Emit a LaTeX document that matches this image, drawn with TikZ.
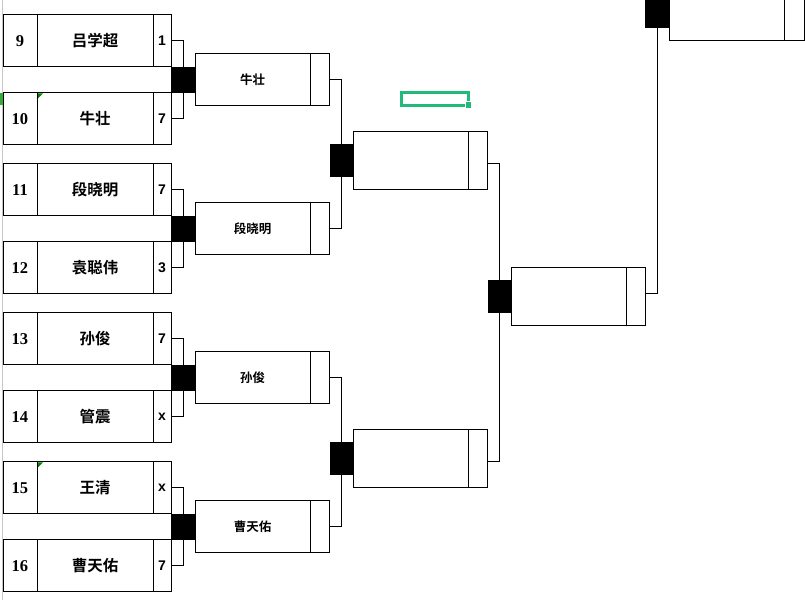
\documentclass[tikz,border=0pt]{standalone}
\usepackage{fontspec}
\setmainfont{Liberation Serif}
\newfontfamily\cjk{Noto Sans CJK SC}[BoldFont={* Bold}]
\newfontfamily\scorefont{Liberation Sans}
\begin{document}
\begin{tikzpicture}[x=1pt,y=-1pt,
  cell/.style={draw,line width=1pt,inner sep=0pt,minimum height=52pt},
  seed/.style={cell,minimum width=34pt,font=\fontsize{16.5}{16.5}\selectfont\bfseries},
  pname/.style={cell,minimum width=116pt,font=\fontsize{15.5}{15.5}\selectfont\cjk\bfseries},
  score/.style={cell,minimum width=18pt,font=\fontsize{14}{14}\selectfont\scorefont\bfseries},
  rname/.style={cell,minimum width=115pt,font=\fontsize{12.5}{12.5}\selectfont\cjk\bfseries},
  rscore/.style={cell,minimum width=19.5pt},
  blk/.style={fill=black,draw=none,inner sep=0pt,minimum width=24pt},
  conn/.style={line width=1pt}]
\useasboundingbox (0,0) rectangle (805,600);
\clip (0,0) rectangle (805,600);
% ---- round 1 ----
\foreach \n/\nm/\sc/\y in {9/吕学超/1/40.8, 10/牛壮/7/118.8, 11/段晓明/7/189.8, 12/袁聪伟/3/267.8,
                          13/孙俊/7/338.8, 14/管震/x/416.8, 15/王清/x/487.8, 16/曹天佑/7/565.8}{
  \node[seed]  (s\n) at (20,\y) {\n};
  \node[pname] (n\n) at (95,\y) {\nm};
  \node[score] (c\n) at (162,\y) {\sc};
}
% comment indicators
\fill[green!50!black] (38,93.3) -- (43,93.3) -- (38,98.3) -- cycle;
\fill[green!50!black] (38,462.3) -- (43,462.3) -- (38,467.3) -- cycle;
% ruler line at left
\draw[gray!45,line width=1pt] (2.5,0) -- (2.5,600);
\fill[green!60!black!80] (0,92.5) rectangle (2.5,105);
% round-1 black boxes
\node[blk,minimum height=26pt] (b1) at (183,79.8) {};
\node[blk,minimum height=26pt] (b2) at (183,228.8) {};
\node[blk,minimum height=26pt] (b3) at (183,377.8) {};
\node[blk,minimum height=26pt] (b4) at (183,526.8) {};
\draw[conn] (c9.east) -| (b1.north);
\draw[conn] (c10.east) -| (b1.south);
\draw[conn] (c11.east) -| (b2.north);
\draw[conn] (c12.east) -| (b2.south);
\draw[conn] (c13.east) -| (b3.north);
\draw[conn] (c14.east) -| (b3.south);
\draw[conn] (c15.east) -| (b4.north);
\draw[conn] (c16.east) -| (b4.south);
% ---- round 2 ----
\foreach \k/\nm/\y in {a/牛壮/79.5, b/段晓明/228.5, c/孙俊/377.5, d/曹天佑/526.5}{
  \node[rname] (r2\k) at (252.5,\y) {\nm};
  \node[rscore,minimum height=52pt] (r2\k s) at (320,\y) {};
}
\node[blk,minimum height=33pt] (b5) at (341.5,160.5) {};
\node[blk,minimum height=33pt] (b6) at (341.5,458.5) {};
\draw[conn] (r2as.east) -| (b5.north);
\draw[conn] (r2bs.east) -| (b5.south);
\draw[conn] (r2cs.east) -| (b6.north);
\draw[conn] (r2ds.east) -| (b6.south);
% ---- round 3 ----
\node[rname,minimum height=58pt] (r3a) at (410.5,160.3) {};
\node[rscore,minimum height=58pt] (r3as) at (477.75,160.3) {};
\node[rname,minimum height=58pt] (r3b) at (410.5,458.3) {};
\node[rscore,minimum height=58pt] (r3bs) at (477.75,458.3) {};
\node[blk,minimum height=33pt] (b7) at (499.5,296.5) {};
\draw[conn] ([yshift=-3pt]r3as.east) -| (b7.north);
\draw[conn] ([yshift=-3pt]r3bs.east) -| (b7.south);
% ---- round 4 ----
\node[rname,minimum height=58pt] (r4) at (568.5,296.3) {};
\node[rscore,minimum height=58pt] (r4s) at (635.75,296.3) {};
\node[blk,minimum height=33pt,minimum width=24.7pt] (b8) at (657.5,11.3) {};
\draw[conn] ([yshift=3pt]r4s.east) -| (b8.south);
% ---- final ----
\node[rname,minimum height=58pt] (f) at (727.2,11.3) {};
\node[rscore,minimum height=58pt,minimum width=19.3pt] (fs) at (794.35,11.3) {};
% ---- selection box ----
\definecolor{selgreen}{RGB}{33,186,122}
\draw[selgreen,line width=3pt] (465.5,105.5) -- (401.5,105.5) -- (401.5,92.2) -- (468.8,92.2) -- (468.8,101.5);
\fill[white] (464.5,101.3) rectangle (472.5,109.3);
\fill[selgreen] (465.7,102.3) rectangle (471.3,108.3);
\end{tikzpicture}
\end{document}
